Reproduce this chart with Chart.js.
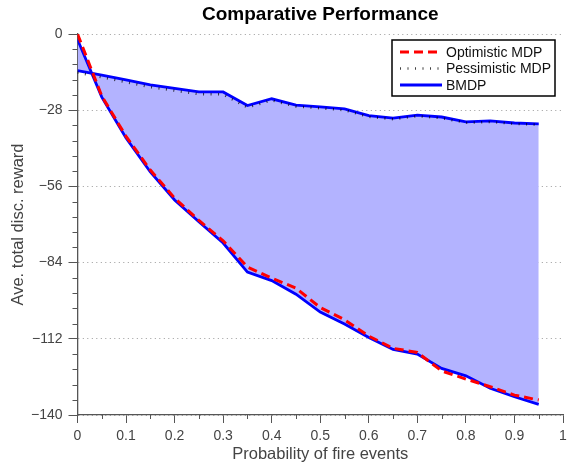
<!DOCTYPE html>
<html>
<head>
<meta charset="utf-8">
<title>Comparative Performance</title>
<script src="https://cdn.jsdelivr.net/npm/chart.js@4.4.0/dist/chart.umd.min.js"></script>
<style>
html, body { margin: 0; padding: 0; background: #fff; }
#wrap { width: 574px; height: 464px; }
</style>
</head>
<body>
<div id="wrap"><canvas id="perf" width="574" height="464"></canvas></div>
<script>
// probability of fire events (x)
const probs = [0, 0.05, 0.1, 0.15, 0.2, 0.25, 0.3, 0.35, 0.4, 0.45,
               0.5, 0.55, 0.6, 0.65, 0.7, 0.75, 0.8, 0.85, 0.9, 0.95];

// series
const optimistic  = [0, -22.8, -37.6, -50.0, -60.3, -68.5, -76.0, -85.6, -89.7, -93.4,
                     -100.5, -105.0, -111.0, -115.5, -117.0, -123.8, -126.8, -129.6, -132.7, -134.5];
const pessimistic = [-14.2, -15.9, -17.7, -19.5, -20.8, -22.1, -22.2, -27.0, -24.4, -26.6,
                     -27.3, -28.0, -30.4, -31.3, -30.2, -30.9, -32.6, -32.3, -33.0, -33.3];
const bmdpUpper   = [-13.5, -15.1, -16.9, -18.7, -20.0, -21.3, -21.3, -26.3, -23.8, -26.1,
                     -26.8, -27.5, -30.0, -30.9, -29.8, -30.5, -32.3, -31.9, -32.7, -33.0];
const bmdpLower   = [-2.0, -23.2, -38.2, -50.7, -61.0, -69.0, -76.8, -87.5, -90.6, -95.6,
                     -102.2, -106.6, -111.5, -115.9, -117.6, -122.9, -125.6, -130.2, -133.3, -136.1];

const yTicks = [-140, -112, -84, -56, -28, 0];
const legendNames = ['Optimistic MDP', 'Pessimistic MDP', 'BMDP'];

const axisGrey = '#555555';
const textGrey = '#444444';
Chart.defaults.font.family = '"Liberation Sans", Arial, Helvetica, sans-serif';

function pts(ys) {
    return probs.map((p, i) => ({x: p, y: ys[i]}));
}

// small ticks between the labelled ones
const minorTicks = {
    id: 'minorTicks',
    afterDraw(chart) {
        const {ctx, scales: {x, y}} = chart;
        ctx.save();
        ctx.strokeStyle = axisGrey;
        ctx.lineWidth = 1;
        ctx.beginPath();
        for (let k = 1; k < 20; k += 2) {
            const px = Math.round(x.getPixelForValue(k * 0.05)) + 0.5;
            ctx.moveTo(px, y.bottom);
            ctx.lineTo(px, y.bottom + 4);
        }
        for (let k = 1; k < 25; k++) {
            if (k % 5 === 0) continue;
            const py = Math.round(y.getPixelForValue(-k * 5.6)) + 0.5;
            ctx.moveTo(x.left - 5, py);
            ctx.lineTo(x.left, py);
        }
        ctx.stroke();
        ctx.restore();
    }
};

// boxed legend inside the top right corner of the plot
const boxLegend = {
    id: 'boxLegend',
    afterDraw(chart) {
        const {ctx, chartArea} = chart;
        const left = chartArea.right - 171, top = chartArea.top + 6;
        const w = 163, h = 56;
        ctx.save();
        ctx.fillStyle = '#fff';
        ctx.fillRect(left, top, w, h);
        ctx.strokeStyle = '#000';
        ctx.lineWidth = 1.5;
        ctx.strokeRect(left, top, w, h);
        ctx.font = '14px ' + Chart.defaults.font.family;
        ctx.textBaseline = 'middle';
        const styles = [
            {color: '#ff0000', width: 3, dash: [9, 5]},
            {color: 'rgba(0,0,0,0.75)', width: 2.5, dash: [1, 6.5]},
            {color: '#0000ff', width: 3, dash: []}
        ];
        legendNames.forEach((name, i) => {
            const cy = top + 12 + i * 16.5;
            const s = styles[i];
            ctx.beginPath();
            ctx.strokeStyle = s.color;
            ctx.lineWidth = s.width;
            ctx.setLineDash(s.dash);
            ctx.moveTo(left + 8, cy);
            ctx.lineTo(left + 50, cy);
            ctx.stroke();
            ctx.setLineDash([]);
            ctx.fillStyle = '#111';
            ctx.fillText(name, left + 54, cy + 1);
        });
        ctx.restore();
    }
};

new Chart(document.getElementById('perf'), {
    type: 'line',
    data: {
        datasets: [
            {
                label: legendNames[0],
                data: pts(optimistic),
                borderColor: '#ff0000',
                borderWidth: 3,
                borderDash: [9, 5],
                pointRadius: 0,
                fill: false
            },
            {
                label: legendNames[1],
                data: pts(pessimistic),
                borderColor: 'rgba(0,0,0,0.75)',
                borderWidth: 2.5,
                borderDash: [1, 6.5],
                pointRadius: 0,
                fill: false
            },
            {
                label: legendNames[2],
                data: pts(bmdpUpper),
                borderColor: '#0000ff',
                borderWidth: 2.8,
                pointRadius: 0,
                fill: false
            },
            {
                label: 'BMDP lower',
                data: pts(bmdpLower),
                borderColor: '#0000ff',
                borderWidth: 2.8,
                pointRadius: 0,
                backgroundColor: 'rgb(179, 179, 255)',
                fill: '-1'
            }
        ]
    },
    options: {
        responsive: false,
        animation: false,
        layout: {padding: {left: 0, right: 11, top: 0, bottom: 0}},
        plugins: {
            legend: {display: false},
            tooltip: {enabled: false},
            title: {
                display: true,
                text: 'Comparative Performance',
                color: '#000',
                fullSize: false,
                font: {size: 19, weight: 'bold'},
                padding: {top: 3, bottom: 8.2}
            }
        },
        scales: {
            x: {
                type: 'linear',
                min: 0,
                max: 1,
                afterFit(scale) { scale.height = 49; },
                afterBuildTicks(scale) {
                    scale.ticks = probs.filter((p, i) => i % 2 === 0).concat([1]).map(v => ({value: v}));
                },
                ticks: {
                    color: textGrey,
                    font: {size: 14},
                    padding: 5,
                    maxRotation: 0,
                    autoSkip: false,
                    callback: v => (v === 0 || v === 1) ? String(v) : v.toFixed(1)
                },
                grid: {
                    drawOnChartArea: false,
                    drawTicks: true,
                    tickLength: 8,
                    tickColor: axisGrey
                },
                border: {color: axisGrey, width: 1.3},
                title: {
                    display: true,
                    text: 'Probability of fire events',
                    color: textGrey,
                    font: {size: 16.5},
                    padding: {top: 0, bottom: 0}
                }
            },
            y: {
                min: -140,
                max: 0,
                afterFit(scale) { scale.width = 77.5; },
                afterBuildTicks(scale) {
                    scale.ticks = yTicks.map(v => ({value: v}));
                },
                ticks: {
                    color: textGrey,
                    font: {size: 14},
                    padding: 6,
                    callback: v => v < 0 ? '\u2212' + Math.abs(v) : String(v)
                },
                grid: {
                    color: '#9a9a9a',
                    lineWidth: 1,
                    tickLength: 9,
                    tickColor: axisGrey
                },
                border: {color: axisGrey, width: 1.3, dash: [1, 3.5]},
                title: {
                    display: true,
                    text: 'Ave. total disc. reward',
                    color: textGrey,
                    font: {size: 16.5},
                    padding: {top: 9, bottom: 0}
                }
            }
        }
    },
    plugins: [minorTicks, boxLegend]
});
</script>
</body>
</html>
